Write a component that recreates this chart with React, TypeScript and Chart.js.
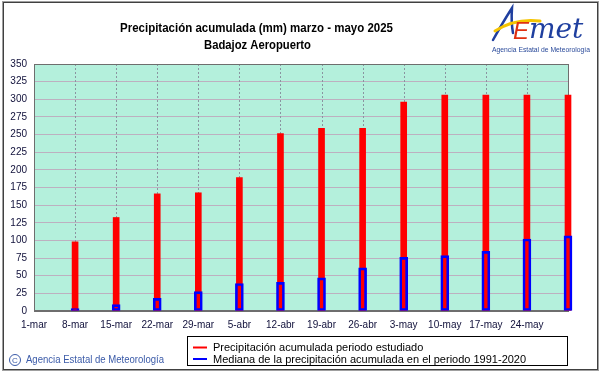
import React, { useEffect, useRef } from 'react';
import { Chart, registerables } from 'chart.js';

Chart.register(...registerables);

// ---- data ----
const tickDays = [0, 7, 14, 21, 28, 35, 42, 49, 56, 63, 70, 77, 84, 91];
const tickLabels = ['1-mar', '8-mar', '15-mar', '22-mar', '29-mar', '5-abr', '12-abr', '19-abr', '26-abr', '3-may', '10-may', '17-may', '24-may', ''];
const barDays = [7, 14, 21, 28, 35, 42, 49, 56, 63, 70, 77, 84, 91];
const accumulated = [98, 132.5, 166, 167.5, 189, 251.5, 259, 259, 296, 306, 306, 306, 306];
const median = [3.5, 9, 18, 27.5, 39, 40.5, 47, 61, 76, 78.5, 84.5, 102, 106.5];
const yMax = 350;
const yStep = 25;
const titleLine1 = 'Precipitación acumulada (mm) marzo - mayo 2025';
const titleLine2 = 'Badajoz Aeropuerto';
const legendLabels = ['Precipitación acumulada periodo estudiado', 'Mediana de la precipitación acumulada en el periodo 1991-2020'];
const copyrightText = 'Agencia Estatal de Meteorología';

const W = 601;
const H = 374;
const FONT = "'Liberation Sans', Arial, sans-serif";
const PLOT_BG = '#b4f0dc';

const decor = {
  id: 'decor',
  beforeDraw(chart: any) {
    const { ctx, chartArea: a } = chart;
    ctx.save();
    ctx.fillStyle = '#ffffff';
    ctx.fillRect(0, 0, W, H);
    ctx.fillStyle = PLOT_BG;
    ctx.fillRect(a.left, a.top, a.right - a.left, a.bottom - a.top);
    ctx.restore();
  },
  beforeDatasetsDraw(chart: any) {
    const { ctx, chartArea: a } = chart;
    const xs = chart.scales.x;
    ctx.save();
    ctx.strokeStyle = '#8a94a0';
    ctx.lineWidth = 1;
    ctx.setLineDash([2, 2]);
    xs.ticks.forEach((t: any) => {
      const px = Math.round(xs.getPixelForValue(t.value)) + 0.5;
      ctx.beginPath();
      ctx.moveTo(px, a.top);
      ctx.lineTo(px, a.bottom);
      ctx.stroke();
    });
    ctx.setLineDash([]);
    ctx.strokeStyle = '#6e6e6e';
    ctx.lineWidth = 1;
    ctx.strokeRect(Math.round(a.left) + 0.5, Math.round(a.top) + 0.5, Math.round(a.right - a.left), Math.round(a.bottom - a.top));
    ctx.lineWidth = 2;
    ctx.beginPath();
    ctx.moveTo(a.left, Math.round(a.bottom));
    ctx.lineTo(a.right, Math.round(a.bottom));
    ctx.stroke();
    ctx.restore();
  },
  afterDraw(chart: any) {
    const { ctx } = chart;
    ctx.save();
    // frame
    ctx.strokeStyle = '#a0a0a0';
    ctx.lineWidth = 1;
    ctx.strokeRect(2.5, 1.5, 596, 369);
    ctx.strokeStyle = '#404040';
    ctx.strokeRect(3.5, 2.5, 594, 367);

    // title
    ctx.fillStyle = '#000';
    ctx.textAlign = 'center';
    ctx.textBaseline = 'alphabetic';
    ctx.font = `bold 13px ${FONT}`;
    ctx.fillText(titleLine1, 256.5, 32, 273);
    ctx.fillText(titleLine2, 257.5, 49, 107);

    // legend
    ctx.fillStyle = '#fff';
    ctx.fillRect(187.5, 336.5, 380, 29);
    ctx.strokeStyle = '#000';
    ctx.lineWidth = 1;
    ctx.strokeRect(187.5, 336.5, 380, 29);
    ctx.lineWidth = 2;
    ctx.strokeStyle = '#ff0000';
    ctx.beginPath(); ctx.moveTo(193, 347.5); ctx.lineTo(207, 347.5); ctx.stroke();
    ctx.strokeStyle = '#0000ff';
    ctx.beginPath(); ctx.moveTo(193, 359); ctx.lineTo(207, 359); ctx.stroke();
    ctx.fillStyle = '#000';
    ctx.textAlign = 'left';
    ctx.textBaseline = 'middle';
    ctx.font = `11px ${FONT}`;
    ctx.fillText(legendLabels[0], 213, 348, 212);
    ctx.fillText(legendLabels[1], 213, 359.5, 315);

    // copyright
    ctx.fillStyle = '#3a5aa8';
    ctx.strokeStyle = '#3a5aa8';
    ctx.lineWidth = 1;
    ctx.beginPath(); ctx.arc(15, 360, 5.5, 0, Math.PI * 2); ctx.stroke();
    ctx.font = `8px ${FONT}`;
    ctx.textAlign = 'center';
    ctx.fillText('C', 15, 360.5);
    ctx.textAlign = 'left';
    ctx.font = `10px ${FONT}`;
    ctx.fillText(copyrightText, 26, 360, 138);

    // logo
    ctx.lineCap = 'round';
    ctx.strokeStyle = '#1f3f9f';
    ctx.lineWidth = 2.5;
    ctx.beginPath();
    ctx.moveTo(493, 40);
    ctx.quadraticCurveTo(503, 22, 512, 8);
    ctx.quadraticCurveTo(511, 22, 513, 33);
    ctx.stroke();
    ctx.strokeStyle = '#f5c400';
    ctx.lineWidth = 3;
    ctx.beginPath();
    ctx.moveTo(495, 31);
    ctx.quadraticCurveTo(515, 18, 540, 21);
    ctx.stroke();
    ctx.fillStyle = '#e03010';
    ctx.font = `italic 24px ${FONT}`;
    ctx.textBaseline = 'alphabetic';
    ctx.fillText('E', 513, 39);
    ctx.fillStyle = '#1f3f9f';
    ctx.font = `italic 28px 'DejaVu Serif', serif`;
    ctx.fillText('met', 529, 38, 60);
    ctx.font = `7px ${FONT}`;
    ctx.fillStyle = '#2a4a9a';
    ctx.textBaseline = 'middle';
    ctx.fillText('Agencia Estatal de Meteorología', 492, 50, 98);
    ctx.restore();
  },
};

export default function App() {
  const ref = useRef<HTMLCanvasElement | null>(null);
  useEffect(() => {
    if (!ref.current) return;
    Chart.defaults.font.family = FONT;
    const chart = new Chart(ref.current, {
      type: 'bar',
      data: {
        datasets: [
          {
            label: legendLabels[0],
            data: barDays.map((d, i) => ({ x: d, y: accumulated[i] })),
            backgroundColor: '#ff0000',
            borderWidth: 0,
            barThickness: 6,
            grouped: false,
            order: 2,
            clip: false,
          } as any,
          {
            label: legendLabels[1],
            data: barDays.map((d, i) => ({ x: d, y: median[i] })),
            backgroundColor: 'rgba(0,0,0,0)',
            borderColor: '#0000ff',
            borderWidth: 2,
            borderSkipped: false,
            barThickness: 8,
            grouped: false,
            order: 1,
            clip: false,
          } as any,
        ],
      },
      options: {
        responsive: false,
        animation: false,
        layout: { padding: { left: 0, top: 64, right: 33, bottom: 43 } },
        plugins: { legend: { display: false }, title: { display: false }, tooltip: { enabled: false } },
        scales: {
          x: {
            type: 'linear',
            offset: false,
            min: tickDays[0],
            max: tickDays[tickDays.length - 1],
            afterBuildTicks: (s: any) => { s.ticks = tickDays.map((v) => ({ value: v })); },
            afterFit: (s: any) => { s.height = 20; },
            grid: { display: false, drawTicks: false, offset: false },
            border: { display: false },
            ticks: {
              autoSkip: false,
              maxRotation: 0,
              padding: 8,
              color: '#10103a',
              font: { size: 10, family: FONT },
              callback: (v: any) => tickLabels[tickDays.indexOf(Number(v))] ?? '',
            },
          },
          y: {
            min: 0,
            max: yMax,
            afterFit: (s: any) => { s.width = 34; },
            grid: { color: '#bdb0c0', lineWidth: 1, drawTicks: false },
            border: { display: false },
            ticks: {
              stepSize: yStep,
              maxTicksLimit: 100,
              padding: 7,
              color: '#10103a',
              font: { size: 10, family: FONT },
            },
          },
        },
      },
      plugins: [decor],
    });
    return () => chart.destroy();
  }, []);
  return (
    <>
      <style>{'body{margin:0;background:#fff}'}</style>
      <canvas ref={ref} width={W} height={H} style={{ display: 'block', width: W, height: H }} />
    </>
  );
}
